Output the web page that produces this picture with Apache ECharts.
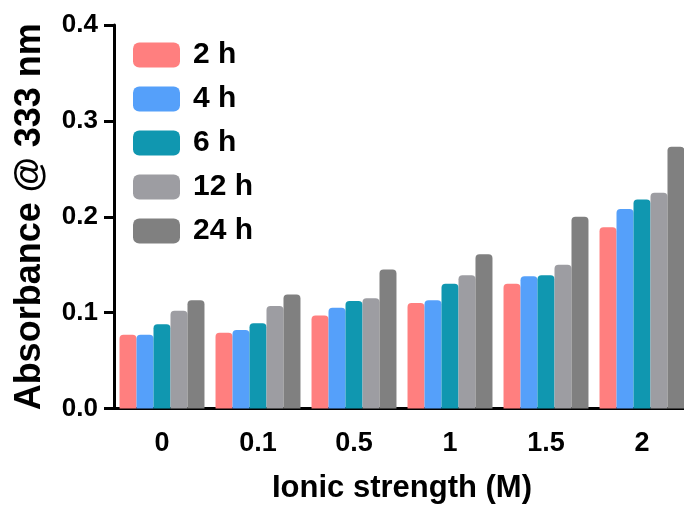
<!DOCTYPE html>
<html><head><meta charset="utf-8">
<script src="https://cdn.jsdelivr.net/npm/echarts@6/dist/echarts.min.js"></script>
<style>html,body{margin:0;padding:0;background:#fff}#c{width:684px;height:508px}</style>
</head><body><div id="c"></div>
<script>
var categories = ['0', '0.1', '0.5', '1', '1.5', '2'];
var seriesNames = ['2 h', '4 h', '6 h', '12 h', '24 h'];
var s2h  = [0.077, 0.079, 0.097, 0.110, 0.130, 0.189];
var s4h  = [0.077, 0.082, 0.105, 0.113, 0.138, 0.208];
var s6h  = [0.088, 0.089, 0.112, 0.130, 0.139, 0.218];
var s12h = [0.102, 0.107, 0.115, 0.139, 0.150, 0.225];
var s24h = [0.113, 0.119, 0.145, 0.161, 0.200, 0.273];
var yTicks = [0, 0.1, 0.2, 0.3, 0.4];
var colors = ['#FF7F7F', '#55A0FA', '#1097B0', '#9D9DA2', '#808080'];

var FONT = '"Liberation Sans", Arial, sans-serif';
var allData = [s2h, s4h, s6h, s12h, s24h];
var chart = echarts.init(document.getElementById('c'), null, {renderer: 'canvas'});
chart.setOption({
  backgroundColor: '#ffffff',
  animation: false,
  color: colors,
  grid: {left: 114, top: 25, width: 576, height: 383.5, containLabel: false, outerBoundsMode: 'none'},
  legend: {
    orient: 'vertical', left: 128, top: 35,
    itemWidth: 47, itemHeight: 25, itemGap: 14,
    icon: 'roundRect',
    textStyle: {fontFamily: FONT, fontWeight: 'bold', fontSize: 30, color: '#000', padding: [0,0,0,8]},
    data: seriesNames
  },
  xAxis: {
    type: 'category', data: categories,
    name: 'Ionic strength (M)', nameLocation: 'middle', nameGap: 64,
    nameTextStyle: {fontFamily: FONT, fontWeight: 'bold', fontSize: 31, color: '#000'},
    axisLine: {lineStyle: {color: '#000', width: 3}},
    axisTick: {alignWithLabel: true, length: 10, lineStyle: {color: '#000', width: 3}},
    axisLabel: {fontFamily: FONT, fontWeight: 'bold', fontSize: 27, color: '#000', margin: 22}
  },
  yAxis: {
    type: 'value', min: yTicks[0], max: yTicks[yTicks.length-1], interval: 0.1,
    name: 'Absorbance @ 333 nm', nameLocation: 'middle', nameGap: 66,
    nameTextStyle: {fontFamily: FONT, fontWeight: 'bold', fontSize: 36, color: '#000'},
    axisLine: {show: true, lineStyle: {color: '#000', width: 3}},
    axisTick: {show: true, length: 10, lineStyle: {color: '#000', width: 3}},
    splitLine: {show: false},
    axisLabel: {fontFamily: FONT, fontWeight: 'bold', fontSize: 26, color: '#000', margin: 16,
      formatter: function(v){ return v.toFixed(1); }}
  },
  series: seriesNames.map(function(n, i){
    return {name: n, type: 'bar', data: allData[i], barGap: '0%', barCategoryGap: '11.5%',
      itemStyle: {borderRadius: [4,4,0,0]}};
  })
});
</script></body></html>
